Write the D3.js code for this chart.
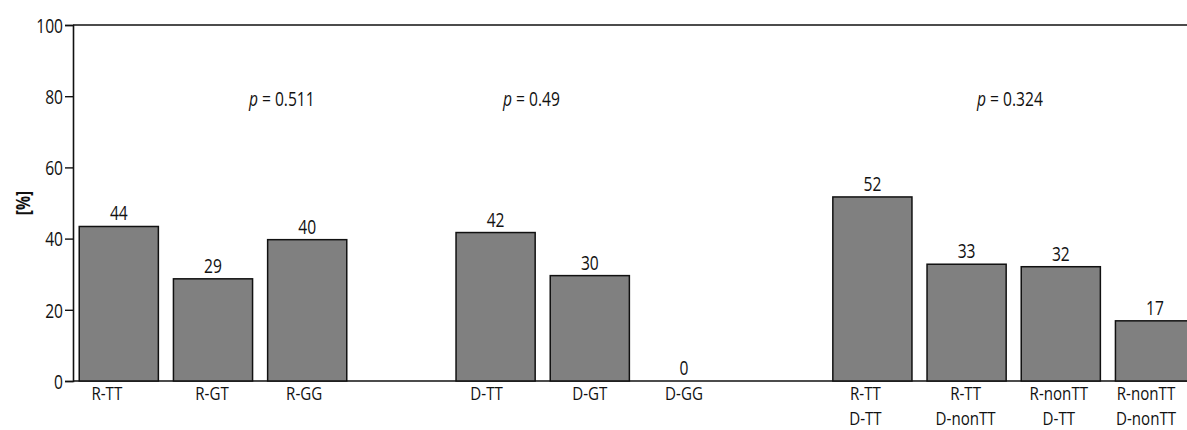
<!DOCTYPE html>
<html>
<head>
<meta charset="utf-8">
<script src="https://cdn.jsdelivr.net/npm/d3@7"></script>
<style>
  body { margin: 0; background: #fff; }
  text { font-family: "Open Sans", "Noto Sans", sans-serif; fill: #111; }
</style>
</head>
<body>
<div id="chart"></div>
<script>
// chart data
var groupR = ["R-TT", "R-GT", "R-GG"];
var groupD = ["D-TT", "D-GT", "D-GG"];
var groupC = ["R-TT|D-TT", "R-TT|D-nonTT", "R-nonTT|D-TT", "R-nonTT|D-nonTT"];
var barValues = [43.4, 28.7, 39.7, 41.7, 29.6, 0, 51.7, 32.8, 32.1, 16.9];
var valueLabels = ["44", "29", "40", "42", "30", "0", "52", "33", "32", "17"];
var pValues = ["0.511", "0.49", "0.324"];
var yTicks = [0, 20, 40, 60, 80, 100];

var svgWidth = 1187;
var svgHeight = 430;

var margin = { top: 25, left: 73 };
var baseY = 381;
var fontSize = 20;
var sx = 0.78; // squeeze text horizontally, the original face is condensed

var svg = d3.select("#chart").append("svg")
    .attr("width", svgWidth)
    .attr("height", svgHeight);

// put a condensed text at (x, y)
function place(sel, x, y, extra, k) {
    var s = k || sx;
    sel.attr("x", 0).attr("y", 0)
       .attr("transform", `translate(${x}, ${y})${extra || ""} scale(${s}, 1)`);
    return sel;
}

// slots: groups separated by one empty slot
var groups = [groupR, groupD, groupC];
var slots = [];
groups.forEach(function(g, i) {
    if (i > 0) slots.push("gap" + i);
    g.forEach(function(c) { slots.push(c); });
});
var categories = groupR.concat(groupD, groupC);

var xScale = d3.scaleBand()
    .domain(slots)
    .range([71.7, 1202.1])
    .paddingInner(0.16)
    .paddingOuter(0.08);

var yScale = d3.scaleLinear()
    .domain([0, 100])
    .range([baseY, margin.top]);

var cx = d => xScale(d) + xScale.bandwidth() / 2;

// top frame line and baseline running to the right edge
svg.append("line")
    .attr("x1", margin.left).attr("x2", svgWidth + 10)
    .attr("y1", yScale(100)).attr("y2", yScale(100))
    .attr("stroke", "#111").attr("stroke-width", 1.6);

svg.append("line")
    .attr("x1", margin.left).attr("x2", svgWidth + 10)
    .attr("y1", yScale(0)).attr("y2", yScale(0))
    .attr("stroke", "#111").attr("stroke-width", 1.6);

// y axis
var leftAxis = d3.axisLeft(yScale).tickValues(yTicks).tickSize(8).tickPadding(3);
var yAxis = svg.append("g")
    .attr("transform", `translate(${margin.left}, 0)`)
    .call(leftAxis);
yAxis.attr("font-family", null).attr("font-size", null);
yAxis.select(".domain").attr("stroke", "#111").attr("stroke-width", 1.6);
yAxis.selectAll(".tick line").attr("stroke", "#111").attr("stroke-width", 1.4);
yAxis.selectAll(".tick text")
    .attr("font-size", fontSize)
    .attr("fill", "#111")
    .attr("dy", "0.36em")
    .attr("x", null)
    .attr("transform", `translate(-10, 0) scale(${sx}, 1)`);

place(svg.append("text"), 23, yScale(50), " rotate(-90)")
    .attr("text-anchor", "middle")
    .attr("dy", "0.35em")
    .attr("font-size", fontSize)
    .attr("font-weight", "bold")
    .text("[%]");

// bars
var barData = categories.map(function(c, i) {
    return { cat: c, value: barValues[i], label: valueLabels[i] };
});

svg.selectAll(".bar")
    .data(barData.filter(d => d.value > 0))
    .enter()
    .append("rect")
    .attr("class", "bar")
    .attr("x", d => xScale(d.cat))
    .attr("y", d => yScale(d.value))
    .attr("width", xScale.bandwidth())
    .attr("height", d => yScale(0) - yScale(d.value))
    .attr("fill", "#808080")
    .attr("stroke", "#111")
    .attr("stroke-width", 1.5);

// value labels
svg.selectAll(".val")
    .data(barData)
    .enter()
    .append("text")
    .attr("class", "val")
    .attr("text-anchor", "middle")
    .attr("font-size", fontSize)
    .each(function(d) { place(d3.select(this), cx(d.cat), yScale(d.value) - 6); })
    .text(d => d.label);

// category labels (one or two lines), nudged like the original
var labelDx = [-12, -1, -3, -9, 0, 0, -7, -1, -2, -9];
var catText = svg.selectAll(".cat")
    .data(categories)
    .enter()
    .append("text")
    .attr("class", "cat")
    .attr("text-anchor", "middle")
    .attr("font-size", 18)
    .each(function(d, i) { place(d3.select(this), cx(d) + labelDx[i], baseY + 19, "", 0.84); });

catText.selectAll("tspan")
    .data(d => d.split("|"))
    .enter()
    .append("tspan")
    .attr("x", 0)
    .attr("dy", (d, i) => i === 0 ? 0 : 25)
    .text(d => d);

// p values over each group
var pAnchor = [[groupR[1], 0.73], [groupD[0], 0.38], [groupC[1], 0.46]];
pValues.forEach(function(p, i) {
    var a = pAnchor[i];
    var t = place(svg.append("text"), cx(a[0]) + a[1] * xScale.step(), 106)
        .attr("text-anchor", "middle")
        .attr("font-size", fontSize);
    t.append("tspan").attr("font-style", "italic").text("p");
    t.append("tspan").text(" = " + p);
});
</script>
</body>
</html>
